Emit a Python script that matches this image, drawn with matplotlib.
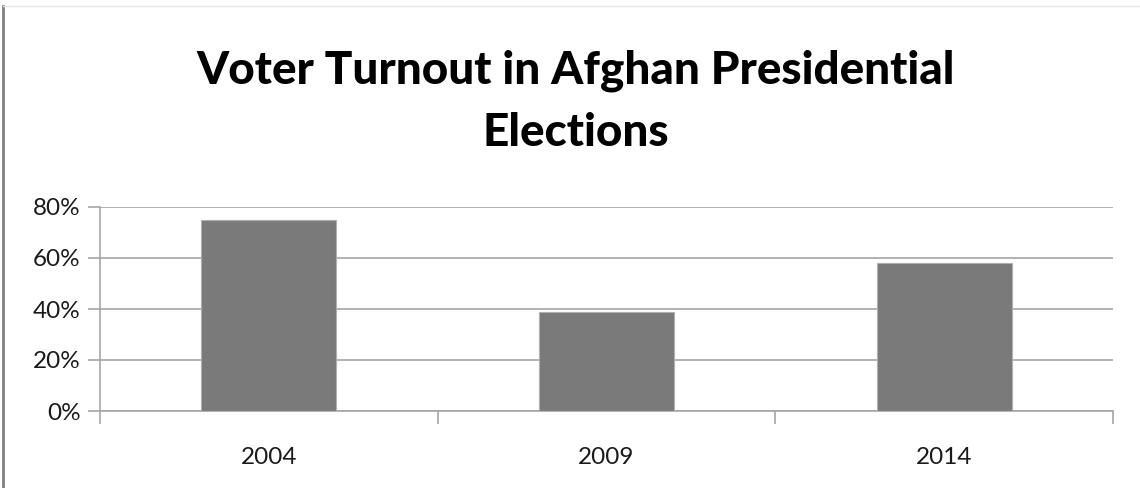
import matplotlib
matplotlib.use("Agg")
import matplotlib.pyplot as plt
from matplotlib.lines import Line2D
from matplotlib.ticker import FuncFormatter

years = ["2004", "2009", "2014"]
turnout = [75, 39, 58]
yticks = [0, 20, 40, 60, 80]
title_lines = ["Voter Turnout in Afghan Presidential", "Elections"]

fig = plt.figure(figsize=(11.4, 4.88), dpi=100)
ax = fig.add_axes([100/1140, 1-411/488, 1013/1140, 204/488])

x = list(range(len(years)))
ax.bar(x, turnout, width=0.4, color="#7a7a7a", edgecolor="#b0b0b0", linewidth=0.8, zorder=3)
ax.set_xlim(-0.5, len(years)-0.5)
ax.set_ylim(0, 80)
ax.set_yticks(yticks)
ax.yaxis.set_major_formatter(FuncFormatter(lambda v, p: f"{int(v)}%"))
ax.grid(axis="y", color="#a6a6a6", linewidth=1.2, zorder=0)
ax.set_xticks([i - 0.5 for i in range(len(years)+1)])
ax.set_xticklabels([])
ax.set_xticks(x, minor=True)
ax.set_xticklabels(years, minor=True)
ax.tick_params(axis="x", which="major", length=9, width=1.2, color="#a6a6a6", direction="out")
ax.tick_params(axis="x", which="minor", length=0, pad=26, labelsize=17.5)
ax.tick_params(axis="y", length=9, width=1.2, color="#a6a6a6", labelsize=17.5, pad=5)
for lab in ax.get_xticklabels(minor=True) + ax.get_yticklabels():
    lab.set_fontfamily(["Lato", "DejaVu Sans"])
    lab.set_color("#1a1a1a")
for s in ["top", "right"]:
    ax.spines[s].set_visible(False)
ax.spines["left"].set_color("#a6a6a6")
ax.spines["left"].set_linewidth(1.2)
ax.spines["bottom"].set_color("#a6a6a6")
ax.spines["bottom"].set_linewidth(1.2)

for line, base in zip(title_lines, [84, 146]):
    fig.text(576/1140, 1-base/488, line, ha="center", va="baseline",
             fontsize=33, fontweight="black", family=["Lato", "Open Sans", "DejaVu Sans"],
             color="#000000")

fig.add_artist(Line2D([3/1140, 3/1140], [0, 1-6/488], transform=fig.transFigure, color="#808080", linewidth=2))
fig.add_artist(Line2D([3/1140, 1], [1-6/488, 1-6/488], transform=fig.transFigure, color="#e6e6e6", linewidth=1))

fig.savefig("out.png", dpi=100)
